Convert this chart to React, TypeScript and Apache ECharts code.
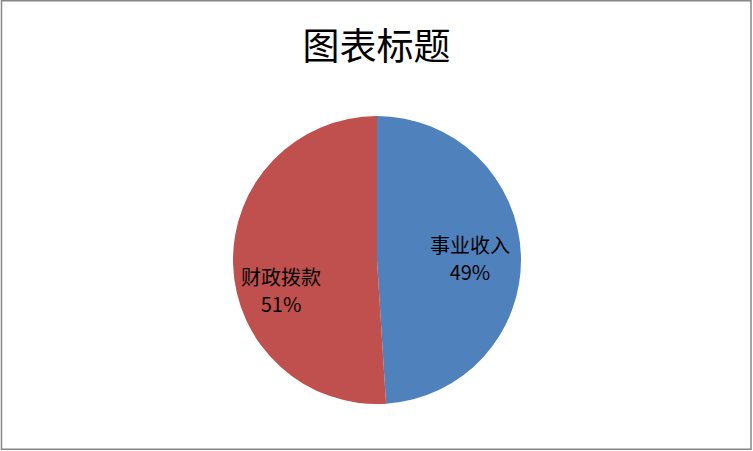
import React, { useEffect, useRef } from "react";
import * as echarts from "echarts";

const titleText = "图表标题";
const categories = ["事业收入", "财政拨款"];
const values = [49, 51];
const colors = ["#4F81BD", "#C0504D"];
const labelShifts = [
  [18, 0],
  [-21, 28],
];

export default function App() {
  const ref = useRef<HTMLDivElement>(null);
  useEffect(() => {
    document.body.style.margin = "0";
    const chart = echarts.init(ref.current!, null, { renderer: "svg" });
    chart.setOption({
      animation: false,
      backgroundColor: "#ffffff",
      title: {
        text: titleText,
        left: "center",
        top: 20,
        textStyle: {
          fontSize: 37,
          fontWeight: "normal",
          color: "#000",
          fontFamily: "Noto Sans CJK SC",
        },
      },
      graphic: [
        {
          type: "rect",
          shape: { x: 1.5, y: 0.75, width: 749.5, height: 448.5 },
          style: { fill: "none", stroke: "#868686", lineWidth: 1.5 },
          silent: true,
        },
      ],
      series: [
        {
          type: "pie",
          center: [377, 260],
          radius: 144,
          startAngle: 90,
          clockwise: true,
          label: {
            show: true,
            position: "inside",
            formatter: (p: any) => `${p.name}\n${p.percent.toFixed(0)}%`,
            fontSize: 20,
            lineHeight: 27,
            color: "#000",
            fontFamily: "Noto Sans CJK SC",
          },
          labelLine: { show: false },
          labelLayout: (p: any) => ({
            dx: labelShifts[p.dataIndex][0],
            dy: labelShifts[p.dataIndex][1],
          }),
          itemStyle: { borderWidth: 0 },
          data: categories.map((name, i) => ({
            name,
            value: values[i],
            itemStyle: { color: colors[i] },
          })),
        },
      ],
    });
    return () => chart.dispose();
  }, []);
  return <div ref={ref} style={{ width: 753, height: 451 }} />;
}
